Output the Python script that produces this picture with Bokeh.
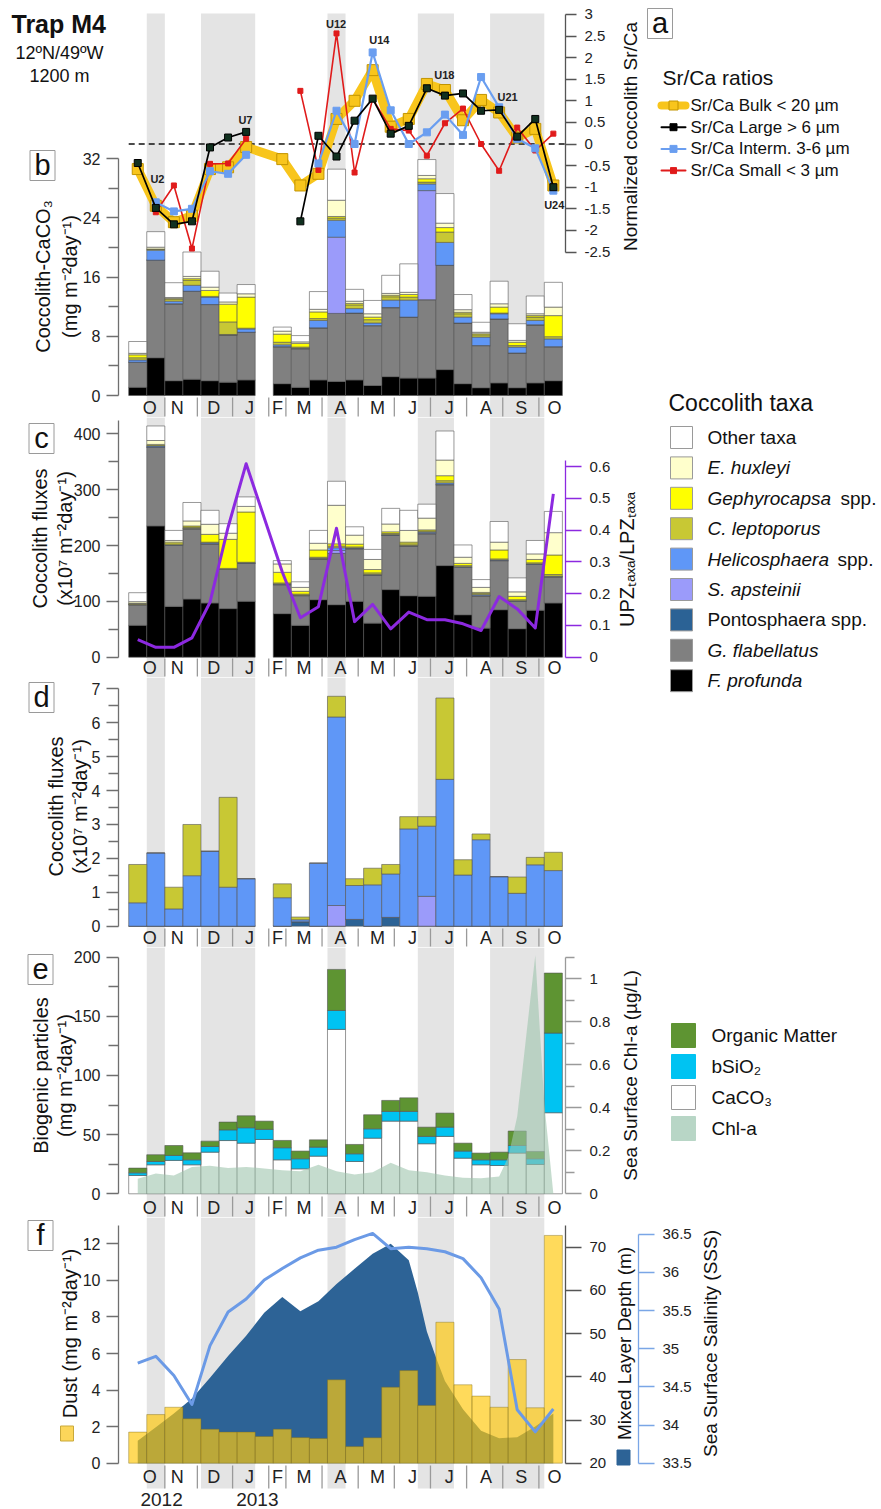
import math
from bokeh.plotting import figure
from bokeh.models import Range1d, LinearAxis, FixedTicker, ColumnDataSource, BoxAnnotation, GridBox
from bokeh.layouts import column
from bokeh.embed import file_html
from bokeh.resources import INLINE
from bokeh.core.properties import value

NAN = float("nan")

# ======================= DATA =======================
CUPS = list(range(1, 25))                       # 24 sampling intervals Oct 2012 - Oct 2013
COCCO_CUPS = [1, 2, 3, 4, 5, 6, 7, 9, 10, 11, 12, 13, 14, 15, 16, 17, 18, 19, 20, 21, 22, 23, 24]

MONTHS = ["O", "N", "D", "J", "F", "M", "A", "M", "J", "J", "A", "S", "O"]
MONTH_MID = [1.17, 2.69, 4.70, 6.68, 8.24, 9.70, 11.72, 13.77, 15.70, 17.74, 19.77, 21.72, 23.56]
MONTH_EDGE = [2.0, 3.8, 5.75, 7.75, 8.7, 10.7, 12.7, 14.7, 16.7, 18.7, 20.7, 22.7]
YEARS = ["2012", "2013"]
YEAR_X = [1.82, 7.12]
SHADED = [(1, 2), (4, 7), (11, 12), (16, 18), (20, 23)]

# (a) normalized coccolith Sr/Ca, per cup (NaN = no data)
SRCA_BULK = [-0.58, -1.43, -1.81, -1.66, -0.58, -0.54, -0.07, NAN, -0.35, -0.96, -0.69, 0.58,
             1.00, 1.71, 0.40, 0.58, 1.39, 1.25, 0.55, 1.02, 0.73, 0.15, 0.35, -0.96]
SRCA_LARGE = [-0.44, -1.48, -1.86, -1.79, -0.08, 0.15, 0.28, NAN, NAN, -1.79, 0.19, -0.29,
              0.54, 1.05, 0.24, 0.42, 1.29, 1.12, 1.17, 0.77, 0.79, 0.17, 0.58, -1.00]
SRCA_INTERM = [NAN, -1.35, -1.56, -1.50, -0.63, -0.69, -0.25, NAN, NAN, NAN, -0.45, 0.77,
               0.00, 2.12, 0.78, 0.00, 0.27, 0.68, 0.21, 1.55, 0.85, 0.12, -0.10, -1.08]
SRCA_SMALL = [NAN, -1.58, -0.96, -2.42, -0.46, -0.45, 0.12, NAN, NAN, 1.23, -0.60, 2.56,
              -0.66, 1.05, 0.35, 0.31, -0.27, 0.48, 0.82, 0.00, -0.62, 0.38, -0.15, 0.24]
UNIT_TXT = ["U2", "U7", "U12", "U14", "U18", "U21", "U24"]
UNIT_X = [1.59, 6.46, 11.48, 13.87, 17.47, 20.97, 23.55]
UNIT_Y = [-0.82, 0.56, 2.78, 2.40, 1.59, 1.08, -1.42]

# (b) coccolith-CaCO3 (mg m-2 day-1), COCCO_CUPS
B_PROF = [1.1, 5.1, 2.0, 2.2, 2.0, 1.8, 2.1, 1.6, 1.1, 2.1, 1.9, 2.1, 1.35, 2.55, 2.35, 2.35, 3.5, 1.6, 1.05, 1.7, 1.05, 1.7, 2.0]
B_FLAB = [3.4, 13.2, 10.4, 11.9, 10.3, 6.4, 6.45, 5.0, 5.2, 7.05, 9.2, 9.0, 8.1, 9.3, 8.25, 10.6, 14.1, 8.2, 5.7, 8.65, 4.7, 7.85, 4.6]
B_PONTO = [0, 0, 0, 0, 0, 0, 0, 0, 0.05, 0, 0, 0.05, 0, 0.05, 0, 0, 0, 0, 0, 0, 0, 0, 0]
B_APS = [0, 0, 0, 0, 0, 0, 0, 0, 0, 0, 10.3, 0, 0, 0, 0, 14.75, 0, 0, 0, 0, 0, 0, 0]
B_HELI = [0.3, 1.35, 0.35, 0.8, 1.0, 0.05, 0.45, 0.25, 0.05, 1.0, 2.3, 0.6, 0.35, 1.0, 2.3, 0.9, 3.1, 0.8, 1.15, 0.7, 0.8, 0.6, 1.05]
B_LEPTO = [0.3, 0.1, 0.3, 0.7, 0.1, 1.7, 0.1, 0.35, 0.15, 0.25, 0.3, 0.5, 0.45, 0.45, 0.4, 0.25, 1.4, 0.45, 0.3, 0.1, 0.2, 0.45, 0.3]
B_GEPH = [0.4, 0.05, 0.05, 0.2, 0.8, 2.4, 4.2, 1.1, 0.5, 0.9, 0.2, 0.2, 0.35, 0.2, 0.35, 0.45, 0.6, 0.2, 0.15, 0.8, 0.45, 0.2, 2.85]
B_HUX = [0.2, 0.25, 0.15, 0.3, 0.45, 0.3, 0.45, 0.4, 0.2, 0.35, 2.2, 0.3, 0.45, 0.25, 0.3, 0.45, 0.6, 0.35, 0.2, 0.45, 0.25, 0.25, 1.15]
B_OTHER = [1.6, 2.1, 2.0, 3.3, 2.15, 1.2, 1.25, 0.55, 0.85, 2.4, 4.2, 1.6, 1.8, 2.45, 3.85, 2.15, 4.0, 2.05, 1.35, 3.05, 2.25, 2.4, 3.35]

# (c) coccolith fluxes (x10^7 m-2 day-1), COCCO_CUPS
C_PROF = [57, 235, 91, 104, 97, 87, 100, 78, 57, 103, 94, 100, 61, 121, 110, 109, 164, 76, 52, 85, 51, 84, 97]
C_FLAB = [37, 141, 109, 126, 106, 70, 68, 52, 53, 73, 92, 94, 86, 97, 89, 112, 145, 85, 58, 88, 49, 82, 47]
C_PONTO = [0, 0, 0, 0, 0, 0, 0, 0, 0.5, 0, 0, 0.5, 0, 0.5, 0, 0, 0, 0, 0, 0, 0, 0, 0]
C_APS = [0, 0, 0, 0, 0, 0, 0, 0, 0, 0, 5, 0, 0, 0, 0, 1, 0, 0, 0, 0, 0, 0, 0]
C_HELI = [0.5, 2, 1, 1, 2, 0.5, 1, 1, 0.5, 1, 5, 1, 1, 1, 1, 2, 3, 1, 2, 1, 1, 1, 1]
C_LEPTO = [1.5, 1, 2, 2, 1, 1.5, 1, 2, 2, 2, 3, 2, 3, 2, 3, 2, 4, 2, 2, 2, 2, 2, 3]
C_GEPH = [0.5, 2, 3, 2, 14, 52, 90, 19, 5, 13, 4, 5, 6, 3, 3, 2, 9, 4, 2, 16, 6, 6, 35]
C_HUX = [3, 7, 3, 9, 18, 11, 10, 15, 7, 12, 69, 16, 18, 14, 21, 21, 28, 11, 9, 14, 8, 10, 40]
C_OTHER = [16, 26, 18, 33, 25, 17, 17, 6, 10, 23, 43, 15, 18, 28, 36, 25, 52, 22, 14, 37, 25, 24, 38]
UPZ_LPZ = [0.055, 0.031, 0.031, 0.061, 0.173, 0.409, 0.609, 0.268, 0.124, 0.159, 0.406, 0.112,
           0.166, 0.089, 0.142, 0.118, 0.118, 0.105, 0.084, 0.191, 0.152, 0.092, 0.514]

# (d) coccolith fluxes of selected taxa (x10^7 m-2 day-1), COCCO_CUPS
D_PONTO = [0, 0, 0, 0, 0, 0, 0, 0, 0.13, 0, 0, 0.2, 0, 0.26, 0, 0, 0, 0, 0, 0, 0, 0, 0]
D_APS = [0, 0, 0, 0, 0, 0, 0, 0, 0, 0, 0.61, 0, 0, 0, 0, 0.88, 0, 0, 0, 0, 0, 0, 0]
D_HELI = [0.69, 2.16, 0.51, 1.49, 2.21, 1.15, 1.40, 0.84, 0.06, 1.86, 5.56, 1.0, 1.22, 1.28, 2.87, 2.07, 4.33, 1.51, 2.55, 1.46, 0.97, 1.81, 1.64]
D_LEPTO = [1.13, 0, 0.64, 1.51, 0, 2.65, 0, 0.41, 0.08, 0, 0.61, 0.2, 0.49, 0.28, 0.36, 0.28, 2.4, 0.45, 0.17, 0, 0.48, 0.22, 0.54]

# (e) biogenic particles (mg m-2 day-1), CUPS
E_CACO3 = [15.5, 24.5, 28.2, 24.5, 35.2, 45.0, 42.8, 45.9, 28.7, 21.1, 31.8, 138.9, 27.3, 47.0, 61.4, 61.4, 42.3, 48.5, 30.1, 24.5, 23.9, 34.4, 24.8, 68.5]
E_BSIO2 = [2.2, 2.8, 4.2, 4.2, 4.8, 9.0, 13.0, 8.5, 10.2, 8.5, 7.6, 16.0, 6.5, 7.9, 8.2, 8.2, 6.2, 7.8, 6.0, 4.2, 4.8, 6.4, 4.8, 67.3]
E_OM = [4.0, 5.7, 8.4, 5.9, 4.5, 6.6, 10.1, 7.0, 6.2, 6.5, 6.2, 34.7, 7.9, 11.9, 9.3, 11.5, 7.8, 11.9, 6.7, 5.7, 6.5, 12.2, 6.2, 50.7]
CHL_X = [0.5, 1.5, 2.5, 3.5, 4.5, 5.5, 6.5, 7.5, 8.5, 9.5, 10.5, 11.5, 12.5, 13.5, 14.5, 15.5, 16.5,
         17.5, 18.5, 19.5, 20.5, 21.0, 21.5, 22.5, 23.0, 23.5]
CHL = [0.07, 0.095, 0.085, 0.125, 0.13, 0.12, 0.125, 0.118, 0.11, 0.105, 0.135, 0.105, 0.09, 0.1, 0.145,
       0.11, 0.1, 0.085, 0.075, 0.072, 0.08, 0.17, 0.36, 1.11, 0.42, 0.0]

# (f) dust, mixed layer depth, salinity
DUST = [1.7, 2.66, 3.06, 2.43, 1.86, 1.7, 1.7, 1.46, 1.86, 1.40, 1.35, 4.56, 0.91, 1.39, 4.16, 5.07,
        3.16, 7.71, 4.29, 3.67, 3.06, 5.67, 3.03, 12.46]
MLD_X = [0.5, 1.5, 2.5, 3.5, 4.5, 5.5, 6.5, 7.5, 8.5, 9.5, 10.5, 11.5, 12.5, 13.5, 14.5, 15.5, 16.0,
         16.5, 17.0, 17.5, 18.5, 19.5, 20.5, 21.5, 22.5, 23.5]
MLD = [25.2, 28.3, 31.5, 35.0, 39.8, 44.8, 49.5, 54.8, 58.5, 55.2, 57.5, 61.5, 65.0, 68.5, 70.8, 67.0,
       59.5, 50.5, 44.5, 39.0, 32.5, 27.5, 25.8, 26.0, 28.5, 31.5]
SSS = [34.81, 34.90, 34.65, 34.27, 35.04, 35.48, 35.65, 35.90, 36.05, 36.19, 36.29, 36.33, 36.43,
       36.51, 36.31, 36.33, 36.31, 36.27, 36.18, 35.93, 35.52, 34.20, 33.91, 34.21]

# ======================= STYLE / GEOMETRY =======================
FONT = "Liberation Sans"
BAND = "#e4e4e4"
AXC = "#6f6f6f"
TAXA = ["prof", "flab", "ponto", "aps", "heli", "lepto", "geph", "hux", "other"]
TAXA_COL = {"prof": "#000000", "flab": "#808080", "ponto": "#2b6295", "aps": "#9b9bfa",
            "heli": "#5f97f7", "lepto": "#c8c834", "geph": "#ffff00", "hux": "#ffffcc", "other": "#ffffff"}
YEL, BLK, BLU, RED = "#f8c51c", "#000000", "#6a9ef0", "#e01b1b"
PURPLE = "#8c29e0"
OM_COL, SI_COL, CHL_COL = "#5e9432", "#00c3f2", "#9fc5ae"
DUST_COL, MLD_COL, SSS_COL = "#ffc90e", "#2d6396", "#6b9ae6"

BAR0_PX, BAR_PX = 128.2, 18.07
FRAME_L, FRAME_R = 118, 565
PAGE_W, PAGE_H = 881, 1509


def X(px):
    return (px - BAR0_PX) / BAR_PX


XS, XE = X(FRAME_L), X(FRAME_R)


class YMap:
    def __init__(self, v0, p0, ppu):
        self.v0, self.p0, self.ppu = v0, p0, ppu

    def __call__(self, py):
        return self.v0 + (self.p0 - py) / self.ppu

    def rng(self, top, bot):
        return Range1d(self(bot), self(top))


def fmt(t):
    return f"{t:g}"


def make_fig(top, bot, ymap, extra=None, band_top=None, band_bot=None):
    p = figure(width=PAGE_W, height=bot - top, x_range=Range1d(XS, XE), y_range=ymap.rng(top, bot),
               output_backend="svg", toolbar_location=None, x_axis_location=None, y_axis_location=None,
               min_border=0, min_border_left=FRAME_L, min_border_right=PAGE_W - FRAME_R)
    if extra:
        p.extra_y_ranges = {k: m.rng(top, bot) for k, m in extra.items()}
    p.outline_line_color = None
    p.grid.visible = False
    p.background_fill_color = "white"
    p.border_fill_color = "white"
    for a, b in SHADED:
        kw = {}
        if band_top is not None:
            kw["top"] = ymap(band_top)
        if band_bot is not None:
            kw["bottom"] = ymap(band_bot)
        p.add_layout(BoxAnnotation(left=a, right=b, fill_color=BAND, fill_alpha=1.0, line_color=None,
                                   level="underlay", **kw))
    return p


def add_axis(p, side, ticks, minor, bounds, range_name=None, color=AXC, label_size="16px",
             tick_out=12, minor_out=10, standoff=6):
    kw = {"y_range_name": range_name} if range_name else {}
    ax = LinearAxis(ticker=FixedTicker(ticks=ticks, minor_ticks=minor), bounds=bounds, **kw)
    ax.major_label_overrides = {t: fmt(t) for t in ticks}
    ax.axis_line_color = color
    ax.axis_line_width = 1.3
    ax.major_tick_line_color = color
    ax.minor_tick_line_color = color
    ax.major_tick_line_width = 1.3
    ax.minor_tick_line_width = 1.3
    ax.major_tick_in, ax.major_tick_out = 0, tick_out
    ax.minor_tick_in, ax.minor_tick_out = 0, minor_out
    ax.major_label_text_font = FONT
    ax.major_label_text_font_size = label_size
    ax.major_label_text_color = "#222222"
    ax.major_label_standoff = standoff
    p.add_layout(ax, side)
    return ax


def add_months(p, ymap, py_lab, py_top, py_bot):
    n = len(MONTH_EDGE)
    p.segment(x0=MONTH_EDGE, x1=MONTH_EDGE, y0=[ymap(py_top)] * n, y1=[ymap(py_bot)] * n,
              line_color="#9a9a9a", line_width=1.3)
    p.text(x=MONTH_MID, y=[ymap(py_lab)] * len(MONTH_MID), text=MONTHS, text_align="center",
           text_baseline="middle", text_font=value(FONT), text_font_size="18px", text_color="#222222")


def taxa_source(cups, cols):
    d = {"x": [c - 0.5 for c in cups]}
    d.update(cols)
    return ColumnDataSource(d)


# ======================= PANEL a + b =======================
yb = YMap(0, 395.0, 7.397)
ya = YMap(0, 143.5, 43.2)
pAB = make_fig(0, 417, yb, extra={"a": ya}, band_top=13)
add_axis(pAB, "left", [0, 8, 16, 24, 32], [4, 12, 20, 28], (0, 32))
add_axis(pAB, "right", [-2.5, -2, -1.5, -1, -0.5, 0, 0.5, 1, 1.5, 2, 2.5, 3], [], (-2.5, 3), range_name="a",
         tick_out=11, label_size="15px", color="#555555", standoff=8)
srcB = taxa_source(COCCO_CUPS, dict(prof=B_PROF, flab=B_FLAB, ponto=B_PONTO, aps=B_APS, heli=B_HELI,
                                    lepto=B_LEPTO, geph=B_GEPH, hux=B_HUX, other=B_OTHER))
pAB.vbar_stack(TAXA, x="x", width=1, source=srcB, fill_color=[TAXA_COL[k] for k in TAXA],
               line_color="#555555", line_width=0.6)
add_months(pAB, yb, 407, 397, 416)

xc = [c - 0.5 for c in CUPS]
pAB.line(x=[0, XE], y=[0, 0], y_range_name="a", line_color="#111111", line_width=1.4, line_dash="6 4")
bx = [x for x, v in zip(xc, SRCA_BULK) if v == v]
bv = [v for v in SRCA_BULK if v == v]
pAB.line(bx, bv, y_range_name="a", line_color=YEL, line_width=9, line_join="round", line_cap="round")
pAB.scatter(bx, bv, y_range_name="a", marker="square", size=11, fill_color=YEL, line_color="#c29400")
pAB.line(xc, SRCA_SMALL, y_range_name="a", line_color=RED, line_width=1.6)
pAB.scatter(xc, SRCA_SMALL, y_range_name="a", marker="square", size=5, fill_color=RED, line_color=RED)
pAB.line(xc, SRCA_INTERM, y_range_name="a", line_color=BLU, line_width=2.2)
pAB.scatter(xc, SRCA_INTERM, y_range_name="a", marker="square", size=7, fill_color=BLU, line_color=BLU)
pAB.line(xc, SRCA_LARGE, y_range_name="a", line_color=BLK, line_width=1.7)
pAB.scatter(xc, SRCA_LARGE, y_range_name="a", marker="square", size=7, fill_color="#10301f", line_color="#000000")
pAB.text(x=UNIT_X, y=UNIT_Y, text=UNIT_TXT, y_range_name="a", text_align="center", text_baseline="middle",
         text_font=value(FONT), text_font_size="11px", text_font_style="bold", text_color="#222222")

# ======================= PANEL c =======================
yc = YMap(0, 656.7, 0.5585)
yr_ = YMap(0, 656.7, 317.8)
pC = make_fig(417, 677, yc, extra={"r": yr_})
add_axis(pC, "left", [0, 100, 200, 300, 400], [50, 150, 250, 350], (0, 424))
add_axis(pC, "right", [0, 0.1, 0.2, 0.3, 0.4, 0.5, 0.6], [], (0, 0.62), range_name="r", color=PURPLE,
         tick_out=16, label_size="15px", standoff=8)
srcC = taxa_source(COCCO_CUPS, dict(prof=C_PROF, flab=C_FLAB, ponto=C_PONTO, aps=C_APS, heli=C_HELI,
                                    lepto=C_LEPTO, geph=C_GEPH, hux=C_HUX, other=C_OTHER))
pC.vbar_stack(TAXA, x="x", width=1, source=srcC, fill_color=[TAXA_COL[k] for k in TAXA],
              line_color="#555555", line_width=0.6)
pC.line([c - 0.5 for c in COCCO_CUPS], UPZ_LPZ, y_range_name="r", line_color=PURPLE, line_width=3,
        line_join="round")
add_months(pC, yc, 667, 658, 676)

# ======================= PANEL d =======================
yd = YMap(0, 925.7, 33.91)
pD = make_fig(677, 947, yd)
add_axis(pD, "left", [0, 1, 2, 3, 4, 5, 6, 7], [0.5, 1.5, 2.5, 3.5, 4.5, 5.5, 6.5], (0, 7))
D_KEYS = ["ponto", "aps", "heli", "lepto"]
srcD = taxa_source(COCCO_CUPS, dict(ponto=D_PONTO, aps=D_APS, heli=D_HELI, lepto=D_LEPTO))
pD.vbar_stack(D_KEYS, x="x", width=1, source=srcD, fill_color=[TAXA_COL[k] for k in D_KEYS],
              line_color="#555555", line_width=0.6)
add_months(pD, yd, 937, 928, 946)

# ======================= PANEL e =======================
ye = YMap(0, 1193.3, 1.1835)
ychl = YMap(0, 1193.3, 215.0)
pE = make_fig(947, 1217, ye, extra={"chl": ychl})
add_axis(pE, "left", [0, 50, 100, 150, 200], [25, 75, 125, 175], (0, 200))
add_axis(pE, "right", [0, 0.2, 0.4, 0.6, 0.8, 1], [0.1, 0.3, 0.5, 0.7, 0.9, 1.1], (0, 1.1),
         range_name="chl", color="#9a9a9a", tick_out=16, minor_out=9, label_size="15px", standoff=8)
srcE = ColumnDataSource(dict(x=xc, caco3=E_CACO3, bsio2=E_BSIO2, om=E_OM))
pE.vbar_stack(["caco3", "bsio2", "om"], x="x", width=1, source=srcE,
              fill_color=["#ffffff", SI_COL, OM_COL], line_color="#555555", line_width=0.6)
pE.varea(x=CHL_X, y1=0, y2=CHL, y_range_name="chl", fill_color=CHL_COL, fill_alpha=0.6)
add_months(pE, ye, 1207, 1196, 1216)

# ======================= PANEL f =======================
yf = YMap(0, 1462.7, 18.28)
ymld = YMap(20, 1462.7, 4.32)
ysss = YMap(33.5, 1462.7, 76.33)
pF = make_fig(1217, PAGE_H, yf, extra={"mld": ymld, "sss": ysss}, band_bot=1488)
add_axis(pF, "left", [0, 2, 4, 6, 8, 10, 12], [], (0, 13))
mld_ax = add_axis(pF, "right", [20, 30, 40, 50, 60, 70], [], (20, 75), range_name="mld",
                  color="#555555", tick_out=16, label_size="15px", standoff=8)
mld_ax.axis_label = " "                      # reserves room for the overlay title
mld_ax.axis_label_text_font_size = "16px"
mld_ax.axis_label_standoff = 9
add_axis(pF, "right", [33.5, 34, 34.5, 35, 35.5, 36, 36.5], [], (33.5, 36.5), range_name="sss",
         color="#7aa6e6", tick_out=16, label_size="15px", standoff=8)
pF.varea(x=MLD_X, y1=20, y2=MLD, y_range_name="mld", fill_color=MLD_COL)
pF.vbar(x=xc, width=1, top=DUST, bottom=0, fill_color=DUST_COL, fill_alpha=0.68,
        line_color="#7a6a20", line_alpha=0.6, line_width=0.7)
pF.line(xc, SSS, y_range_name="sss", line_color=SSS_COL, line_width=3, line_join="round")
add_months(pF, yf, 1476, 1465, 1488)
pF.text(x=YEAR_X, y=[yf(1499)] * 2, text=YEARS, text_align="center", text_baseline="middle",
        text_font=value(FONT), text_font_size="19px", text_color="#222222")

# ======================= OVERLAY: titles, panel letters, legends =======================
pO = figure(width=PAGE_W, height=PAGE_H, x_range=Range1d(0, PAGE_W), y_range=Range1d(PAGE_H, 0),
            output_backend="svg", toolbar_location=None, x_axis_location=None, y_axis_location=None,
            min_border=0)
pO.outline_line_color = None
pO.grid.visible = False
pO.background_fill_alpha = 0
pO.border_fill_alpha = 0


def otext(x, y, txt, size, style="normal", align="center", angle=0.0, color="#111111"):
    pO.text(x=[x], y=[y], text=[txt], angle=angle, text_align=align, text_baseline="middle",
            text_font=value(FONT), text_font_size=size, text_font_style=style, text_color=color)


def obox(x, y, w, h, fill, line):
    pO.rect(x=[x], y=[y], width=w, height=h, fill_color=fill, line_color=line)


UP = math.pi / 2
UNITS = "(mg m\u207b\u00b2day\u207b\u00b9)"
FLUX_UNITS = "(x10\u2077 m\u207b\u00b2day\u207b\u00b9)"

# station header
otext(11, 23, "Trap M4", "25px", style="bold", align="left")
otext(59, 52, "12\u00baN/49\u00baW", "18px")
otext(59, 75, "1200 m", "18px")

# panel letters
for letter, lx, ly in [("a", 659.5, 23), ("b", 42, 165), ("c", 41, 438), ("d", 41, 697),
                       ("e", 40, 969), ("f", 40, 1235)]:
    obox(lx, ly, 25, 30, "white", "#9a9a9a")
    otext(lx, ly - 1, letter, "29px")

# left-axis titles (read bottom to top)
otext(42, 276, "Coccolith-CaCO\u2083", "20px", angle=UP)
otext(69, 276, UNITS, "20px", angle=UP)
otext(39, 538, "Coccolith fluxes", "20px", angle=UP)
otext(64, 538, FLUX_UNITS, "20px", angle=UP)
otext(55, 806, "Coccolith fluxes", "20px", angle=UP)
otext(79, 806, FLUX_UNITS, "20px", angle=UP)
otext(40, 1075, "Biogenic particles", "20px", angle=UP)
otext(64, 1075, UNITS, "20px", angle=UP)
otext(69, 1333, "Dust " + UNITS, "20px", angle=UP)

# right-axis titles (read bottom to top)
otext(630, 136, "Normalized coccolith Sr/Ca", "19px", angle=UP)
otext(626, 559, "UPZ\u209c\u2090\u2093\u2090/LPZ\u209c\u2090\u2093\u2090", "20px", angle=UP)
otext(630, 1075, "Sea Surface Chl-a (\u00b5g/L)", "19px", angle=UP)
otext(624, 1343, "Mixed Layer Depth (m)", "19px", angle=UP)
otext(710, 1343, "Sea Surface Salinity (SSS)", "19px", angle=UP)

# swatches attached to axis titles
obox(66.5, 1433, 13, 15, "#fcd65a", "#c9a93a")
obox(623, 1457, 13, 15, MLD_COL, MLD_COL)

# Sr/Ca legend
otext(662, 77, "Sr/Ca ratios", "21px", align="left")
SR_ITEMS = [("Sr/Ca Bulk < 20 \u00b5m", YEL, 8, 9, "#c29400"),
            ("Sr/Ca Large > 6 \u00b5m", BLK, 2, 7, "#000000"),
            ("Sr/Ca Interm. 3-6 \u00b5m", BLU, 2, 7, BLU),
            ("Sr/Ca Small < 3 \u00b5m", RED, 2, 6, RED)]
for i, (txt, col, lw, ms, mlc) in enumerate(SR_ITEMS):
    yy = 105 + 21.7 * i
    pO.line([661, 685], [yy, yy], line_color=col, line_width=lw, line_cap="round")
    pO.scatter([673], [yy], marker="square", size=ms, fill_color=col, line_color=mlc)
    otext(690, yy, txt, "17px", align="left")

# Coccolith taxa legend
otext(668, 402, "Coccolith taxa", "23px", align="left")
TAXA_LEG = [("other", [("Other taxa", "normal")]),
            ("hux", [("E. huxleyi", "italic")]),
            ("geph", [("Gephyrocapsa", "italic"), ("spp.", "normal")]),
            ("lepto", [("C. leptoporus", "italic")]),
            ("heli", [("Helicosphaera", "italic"), ("spp.", "normal")]),
            ("aps", [("S. apsteinii", "italic")]),
            ("ponto", [("Pontosphaera spp.", "normal")]),
            ("flab", [("G. flabellatus", "italic")]),
            ("prof", [("F. profunda", "italic")])]
SPP_X = {"geph": 840, "heli": 837}
for i, (k, parts) in enumerate(TAXA_LEG):
    yy = 437 + 30.4 * i
    obox(681, yy, 22, 22, TAXA_COL[k], "#9a9a9a")
    otext(707, yy, parts[0][0], "19px", style=parts[0][1], align="left")
    if len(parts) > 1:
        otext(SPP_X[k], yy, parts[1][0], "19px", style=parts[1][1], align="left")

# Biogenic particles legend
BIO_LEG = [("Organic Matter", OM_COL, OM_COL), ("bSiO\u2082", SI_COL, SI_COL),
           ("CaCO\u2083", "#ffffff", "#9a9a9a"), ("Chl-a", "#b8d6c6", "#b8d6c6")]
for i, (txt, col, lc) in enumerate(BIO_LEG):
    yy = 1035 + 31 * i
    obox(683, yy, 24, 24, col, lc)
    otext(711, yy, txt, "19px", align="left")

main = column(pAB, pC, pD, pE, pF)
layout = GridBox(children=[(main, 0, 0), (pO, 0, 0)])
open("out.html", "w").write(file_html(layout, INLINE))
